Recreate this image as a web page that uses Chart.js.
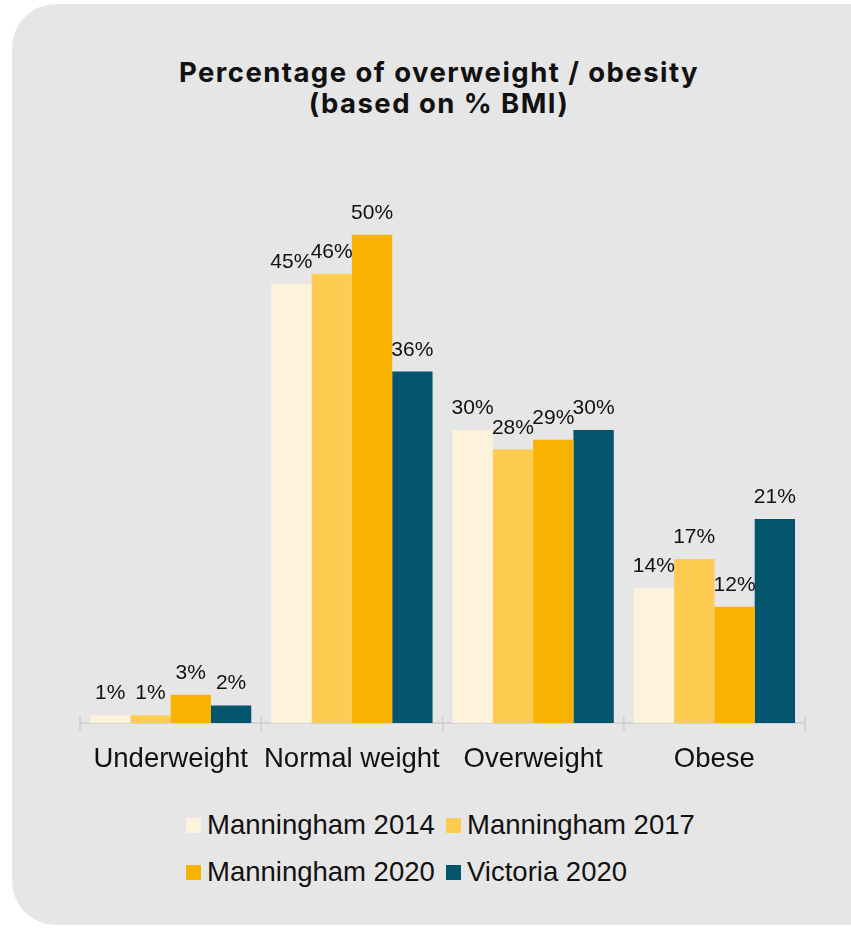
<!DOCTYPE html>
<html>
<head>
<meta charset="utf-8">
<script src="https://cdn.jsdelivr.net/npm/chart.js@4/dist/chart.umd.min.js"></script>
<style>
body{margin:0;background:#fff;width:851px;height:928px;overflow:hidden;position:relative;font-family:"Liberation Sans",Arial,sans-serif;}
.card{position:absolute;left:12px;top:4px;width:900px;height:921px;border-radius:44px;background:#e6e6e6;}
#titulo{position:absolute;left:0;top:57px;width:878px;text-align:center;font-family:Inter,sans-serif;font-weight:700;font-size:27.5px;line-height:31px;letter-spacing:1.45px;color:#111;}
#grafico{position:absolute;left:12px;top:4px;}
#leyenda{position:absolute;left:186px;top:809px;display:grid;grid-template-columns:260px 260px;row-gap:15px;}
.item{display:flex;align-items:center;font-size:27.5px;color:#111;height:32px;white-space:nowrap;}
.caja{width:15px;height:15px;margin-right:6px;flex:none;}
</style>
</head>
<body>
<div class="card"></div>
<div id="titulo">Percentage of overweight / obesity<br>(based on % BMI)</div>
<canvas id="grafico" width="839" height="800"></canvas>
<div id="leyenda"></div>
<script>
const categorias = ["Underweight", "Normal weight", "Overweight", "Obese"];
const series = ["Manningham 2014", "Manningham 2017", "Manningham 2020", "Victoria 2020"];
const manningham2014 = [0.8, 45, 30, 13.8];
const manningham2017 = [0.8, 46, 28, 16.8];
const manningham2020 = [2.9, 50, 29, 11.9];
const victoria2020 = [1.8, 36, 30, 20.9];
const colores = ["#fdf3dd", "#ffcc52", "#f8b200", "#03556e"];

const fuente = "'Liberation Sans', Arial, sans-serif";

// etiquetas de porcentaje sobre cada barra
const etiquetas = {
id: "etiquetas",
afterDatasetsDraw(chart){
const ctx = chart.ctx;
ctx.save();
ctx.font = "21px " + fuente;
ctx.fillStyle = "#111";
ctx.textAlign = "center";
ctx.textBaseline = "alphabetic";
chart.data.datasets.forEach((ds, i) => {
chart.getDatasetMeta(i).data.forEach((bar, j) => {
ctx.fillText(Math.round(ds.data[j]) + "%", bar.x, bar.y - 16);
});
});
ctx.restore();
}
};

// marcas del eje que suben un poco sobre la linea
const marcas = {
id: "marcas",
afterDraw(chart){
const x = chart.scales.x;
const ctx = chart.ctx;
const paso = x.getPixelForValue(1) - x.getPixelForValue(0);
ctx.save();
ctx.strokeStyle = "#d3d3d3";
ctx.lineWidth = 2;
for(let i = 0; i <= categorias.length; i++){
const px = x.getPixelForValue(0) - paso / 2 + paso * i;
ctx.beginPath();
ctx.moveTo(px, x.top);
ctx.lineTo(px, x.top - 7);
ctx.stroke();
}
ctx.restore();
}
};

const valores = [manningham2014, manningham2017, manningham2020, victoria2020];

const config = {
type: "bar",
data: {
labels: categorias,
datasets: series.map((s, i) => ({
label: s,
data: valores[i],
backgroundColor: colores[i],
categoryPercentage: 0.89,
barPercentage: 1
}))
},
options: {
responsive: false,
animation: false,
layout: {padding: {left: 68, right: 46, top: 182, bottom: 16}},
plugins: {
legend: {display: false},
tooltip: {enabled: false},
title: {display: false}
},
scales: {
x: {
grid: {offset: true, drawOnChartArea: false, tickLength: 8, color: "#d3d3d3", lineWidth: 2},
border: {color: "#d3d3d3", width: 2},
ticks: {color: "#111", font: {family: fuente, size: 27.5}, padding: 12, maxRotation: 0, minRotation: 0, autoSkip: false}
},
y: {display: false, min: 0, max: 55}
}
},
plugins: [etiquetas, marcas]
};

new Chart(document.getElementById("grafico"), config);

const leyenda = document.getElementById("leyenda");
series.forEach((s, i) => {
const item = document.createElement("div");
item.className = "item";
item.innerHTML = '<span class="caja" style="background:' + colores[i] + '"></span>' + s;
leyenda.appendChild(item);
});
</script>
</body>
</html>
